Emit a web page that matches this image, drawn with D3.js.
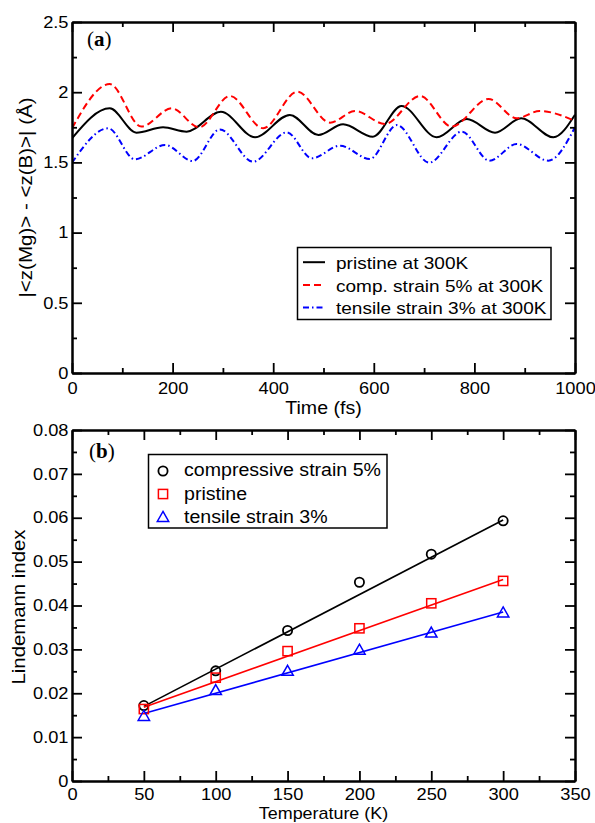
<!DOCTYPE html>
<html><head><meta charset="utf-8">
<script src="https://cdn.jsdelivr.net/npm/d3@7"></script>
<style>body{margin:0;background:#fff} svg{display:block}</style>
</head><body>
<svg id="c" width="595" height="823"></svg>
<script>
// ---------- Panel (a) data: |<z(Mg)> - <z(B)>| vs time ----------
const timePristine = [0, 75, 128, 181, 228, 296, 364, 433, 490, 539, 598, 655, 725, 785, 841, 893, 957, 1000];
const valPristine  = [1.672, 1.885, 1.712, 1.750, 1.719, 1.861, 1.679, 1.838, 1.695, 1.771, 1.683, 1.902, 1.679, 1.809, 1.712, 1.814, 1.679, 1.84];
const timeComp = [0, 75, 138, 198, 253, 314, 380, 448, 513, 563, 622, 692, 755, 828, 884, 930, 1000];
const valComp  = [1.743, 2.058, 1.755, 1.885, 1.750, 1.973, 1.743, 2.004, 1.783, 1.866, 1.774, 1.973, 1.755, 1.952, 1.814, 1.866, 1.795];
const timeTensile = [0, 72, 125, 185, 240, 294, 360, 427, 477, 533, 592, 646, 710, 775, 830, 884, 947, 1000];
const valTensile  = [1.498, 1.743, 1.522, 1.624, 1.510, 1.735, 1.505, 1.714, 1.529, 1.619, 1.524, 1.766, 1.498, 1.719, 1.512, 1.631, 1.512, 1.75];
const legendA = ["pristine at 300K", "comp. strain 5% at 300K", "tensile strain 3% at 300K"];
const xTicksA = [0, 200, 400, 600, 800, 1000];
const yTicksA = [0, 0.5, 1, 1.5, 2, 2.5];

// ---------- Panel (b) data: Lindemann index vs temperature ----------
const temps = [50, 100, 150, 200, 250, 300];
const lindComp     = [0.0172, 0.0251, 0.0343, 0.0453, 0.0517, 0.0593];
const lindPristine = [0.0164, 0.02355, 0.0296, 0.0348, 0.0405, 0.0456];
const lindTensile  = [0.0148, 0.0207, 0.0251, 0.0299, 0.0338, 0.0384];
const fitT = [50, 300];
const fitComp     = [0.0170, 0.0595];
const fitPristine = [0.0168, 0.0459];
const fitTensile  = [0.0154, 0.0385];
const legendB = ["compressive strain 5%", "pristine", "tensile strain 3%"];
const xTicksB = [0, 50, 100, 150, 200, 250, 300, 350];
const yTicksB = [0, 0.01, 0.02, 0.03, 0.04, 0.05, 0.06, 0.07, 0.08];

// ---------- drawing ----------
const svg = d3.select('#c');
const FONT = "'Liberation Sans', Arial, Helvetica, sans-serif";
const SERIF = "'Liberation Serif', 'Times New Roman', serif";
const SX = 1.12;

function stretchedText(parent, x, y, str, size, anchor) {
  return parent.append('text')
    .attr('transform', `translate(${x},${y}) scale(${SX},1)`)
    .attr('font-family', FONT).attr('font-size', size)
    .attr('text-anchor', anchor || 'start').attr('fill', '#000')
    .text(str);
}

function makeAxes(x, y, xMajor, yMajor, xMinor, yMinor, xFmt, yFmt, xPad) {
  const [x0, x1] = x.range();
  const [y0, y1] = y.range();
  const g = svg.append('g');
  // minor ticks
  g.append('g').attr('transform', `translate(0,${y0})`)
    .call(d3.axisBottom(x).tickValues(xMinor).tickSize(-5).tickSizeOuter(0).tickFormat(() => ''));
  g.append('g').attr('transform', `translate(0,${y1})`)
    .call(d3.axisTop(x).tickValues(xMinor).tickSize(-5).tickSizeOuter(0).tickFormat(() => ''));
  g.append('g').attr('transform', `translate(${x0},0)`)
    .call(d3.axisLeft(y).tickValues(yMinor).tickSize(-5).tickSizeOuter(0).tickFormat(() => ''));
  g.append('g').attr('transform', `translate(${x1},0)`)
    .call(d3.axisRight(y).tickValues(yMinor).tickSize(-5).tickSizeOuter(0).tickFormat(() => ''));
  // major ticks
  const bx = g.append('g').attr('transform', `translate(0,${y0})`)
    .call(d3.axisBottom(x).tickValues(xMajor).tickSize(-10).tickSizeOuter(0).tickPadding(xPad).tickFormat(xFmt));
  g.append('g').attr('transform', `translate(0,${y1})`)
    .call(d3.axisTop(x).tickValues(xMajor).tickSize(-10).tickSizeOuter(0).tickFormat(() => ''));
  const ly = g.append('g').attr('transform', `translate(${x0},0)`)
    .call(d3.axisLeft(y).tickValues(yMajor).tickSize(-10).tickSizeOuter(0).tickPadding(3.5).tickFormat(yFmt));
  g.append('g').attr('transform', `translate(${x1},0)`)
    .call(d3.axisRight(y).tickValues(yMajor).tickSize(-10).tickSizeOuter(0).tickFormat(() => ''));
  g.selectAll('.domain').attr('stroke', '#000').attr('stroke-width', 2);
  g.selectAll('.tick line').attr('stroke', '#000').attr('stroke-width', 1.8);
  g.selectAll('.tick text').attr('font-family', FONT).attr('font-size', 16.3).attr('fill', '#000');
  bx.selectAll('.tick text').attr('transform', `scale(${SX},1)`);
  ly.selectAll('.tick text').attr('x', -3.5 / SX).attr('transform', `scale(${SX},1)`);
  return g;
}

const fmtNum = d => d === 0 ? '0' : String(d);

// ===== Panel (a) =====
const xA = d3.scaleLinear().domain([0, 1000]).range([72, 575]);
const yA = d3.scaleLinear().domain([0, 2.5]).range([373, 22]);

svg.append('clipPath').attr('id', 'clipA').append('rect')
  .attr('x', 72).attr('y', 22).attr('width', 503).attr('height', 351);

const lineA = d3.line().curve(d3.curveMonotoneX);
const seriesA = [
  {t: timePristine, v: valPristine, color: '#000000', dash: null},
  {t: timeComp, v: valComp, color: '#ff0000', dash: '7,4'},
  {t: timeTensile, v: valTensile, color: '#0000ff', dash: '6,3,1.5,3'}
];
const gA = svg.append('g').attr('clip-path', 'url(#clipA)');
seriesA.forEach(s => {
  gA.append('path')
    .attr('d', lineA(s.t.map((t, i) => [xA(t), yA(s.v[i])])))
    .attr('fill', 'none').attr('stroke', s.color).attr('stroke-width', 2)
    .attr('stroke-dasharray', s.dash);
});

makeAxes(xA, yA, xTicksA, yTicksA,
  d3.range(100, 1000, 200), [0.25, 0.75, 1.25, 1.75, 2.25],
  fmtNum, fmtNum, 9);

// legend (a)
const lgA = svg.append('g');
lgA.append('rect').attr('x', 297.5).attr('y', 247.5).attr('width', 253.5).attr('height', 72)
  .attr('fill', '#fff').attr('stroke', '#000').attr('stroke-width', 1.5);
const rowA = [268.7, 291.5, 314];
seriesA.forEach((s, i) => {
  lgA.append('line').attr('x1', 303).attr('x2', 325).attr('y1', rowA[i] - 6.5).attr('y2', rowA[i] - 6.5)
    .attr('stroke', s.color).attr('stroke-width', 2).attr('stroke-dasharray', s.dash);
  stretchedText(lgA, 336, rowA[i], legendA[i], 17);
});

// axis titles (a)
stretchedText(svg, 323.5, 414, 'Time (fs)', 17.5, 'middle');
svg.append('text')
  .attr('transform', 'translate(32,197.5) rotate(-90)')
  .attr('font-family', FONT).attr('font-size', 18.5).attr('text-anchor', 'middle')
  .attr('textLength', 200).attr('lengthAdjust', 'spacingAndGlyphs')
  .text('|<z(Mg)> - <z(B)>| (Å)');

// panel label (a)
const la = svg.append('text').attr('x', 87).attr('y', 46)
  .attr('font-family', SERIF).attr('font-size', 21).attr('fill', '#000');
la.append('tspan').text('(');
la.append('tspan').attr('font-weight', 'bold').text('a');
la.append('tspan').text(')');

// ===== Panel (b) =====
const xB = d3.scaleLinear().domain([0, 350]).range([72, 575]);
const yB = d3.scaleLinear().domain([0, 0.08]).range([781, 430]);

const seriesB = [
  {v: lindComp, fit: fitComp, color: '#000000', sym: 'circle'},
  {v: lindPristine, fit: fitPristine, color: '#ff0000', sym: 'square'},
  {v: lindTensile, fit: fitTensile, color: '#0000ff', sym: 'triangle'}
];

function drawSymbol(parent, sym, cx, cy, color) {
  if (sym === 'circle') {
    parent.append('circle').attr('cx', cx).attr('cy', cy).attr('r', 4.6)
      .attr('fill', 'none').attr('stroke', color).attr('stroke-width', 1.8);
  } else if (sym === 'square') {
    parent.append('rect').attr('x', cx - 4.6).attr('y', cy - 4.6).attr('width', 9.2).attr('height', 9.2)
      .attr('fill', 'none').attr('stroke', color).attr('stroke-width', 1.5);
  } else {
    parent.append('path')
      .attr('d', `M${cx},${cy - 5.6}L${cx + 5.7},${cy + 4.4}L${cx - 5.7},${cy + 4.4}Z`)
      .attr('fill', 'none').attr('stroke', color).attr('stroke-width', 1.5);
  }
}

const gB = svg.append('g');
const lineB = d3.line();
seriesB.forEach(s => {
  gB.append('path')
    .attr('d', lineB(fitT.map((t, i) => [xB(t), yB(s.fit[i])])))
    .attr('fill', 'none').attr('stroke', s.color).attr('stroke-width', 1.6);
});
seriesB.forEach(s => {
  temps.forEach((t, i) => drawSymbol(gB, s.sym, xB(t), yB(s.v[i]), s.color));
});

makeAxes(xB, yB, xTicksB, yTicksB,
  [25, 75, 125, 175, 225, 275, 325], d3.range(0.005, 0.08, 0.01),
  fmtNum, d => d === 0 ? '0' : d3.format('.2f')(d), 7.5);

// legend (b)
const lgB = svg.append('g');
lgB.append('rect').attr('x', 148.5).attr('y', 454.5).attr('width', 238.5).attr('height', 73.5)
  .attr('fill', '#fff').attr('stroke', '#000').attr('stroke-width', 1.5);
const rowB = [476, 499.5, 523];
const symB = [471, 494, 517];
seriesB.forEach((s, i) => {
  drawSymbol(lgB, s.sym, 163, symB[i], s.color);
  stretchedText(lgB, 184, rowB[i], legendB[i], 17.5);
});

// axis titles (b)
stretchedText(svg, 323.5, 819, 'Temperature (K)', 16, 'middle');
svg.append('text')
  .attr('transform', 'translate(25,607) rotate(-90)')
  .attr('font-family', FONT).attr('font-size', 18.5).attr('text-anchor', 'middle')
  .attr('textLength', 155).attr('lengthAdjust', 'spacingAndGlyphs')
  .text('Lindemann index');

// panel label (b)
const lb = svg.append('text').attr('x', 89).attr('y', 458)
  .attr('font-family', SERIF).attr('font-size', 21).attr('fill', '#000');
lb.append('tspan').text('(');
lb.append('tspan').attr('font-weight', 'bold').text('b');
lb.append('tspan').text(')');
</script>
</body></html>
